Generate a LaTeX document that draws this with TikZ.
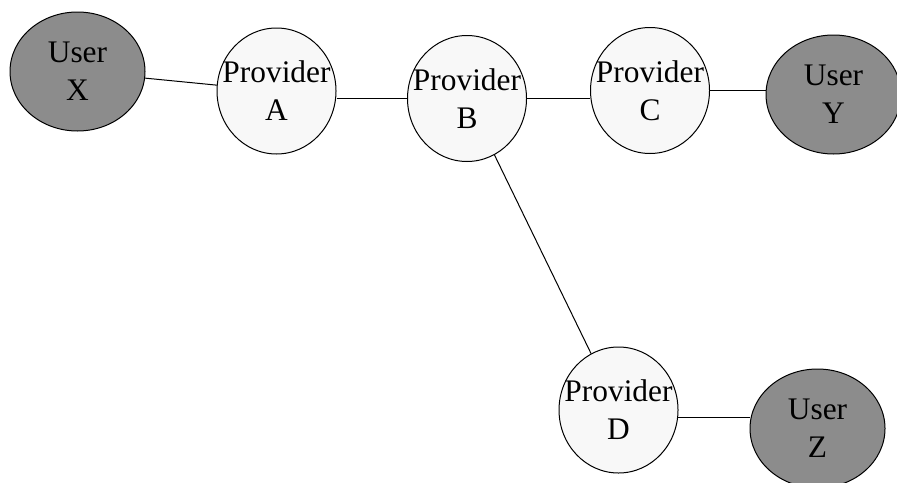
\documentclass[tikz,border=0pt]{standalone}
\usepackage{fontspec}
\setmainfont{Liberation Serif}
\usetikzlibrary{shapes.geometric}

\definecolor{usergray}{RGB}{140,140,140}
\definecolor{provwhite}{RGB}{248,248,248}

\tikzset{
	provider/.style={ellipse, draw=black, fill=provwhite, inner sep=0pt,
		minimum width=59.5pt, minimum height=63pt},
	user/.style={ellipse, draw=black, fill=usergray, inner sep=0pt,
		minimum width=67.5pt, minimum height=59.5pt},
	label text/.style={align=center, inner sep=0pt,
		font=\fontsize{15.7}{19}\selectfont}
}

\begin{document}
\begin{tikzpicture}[x=0.5pt, y=-0.5pt, line width=0.5pt]
		\useasboundingbox (0,0) rectangle (897,482);

		% users
		\node[user] (X) at (77.5,71.5) {};
		\node[user] (Y) at (833.5,94.5) {};
		\node[user] (Z) at (817.5,428.5) {};

		% providers
		\node[provider] (A) at (276.5,91) {};
		\node[provider] (B) at (467,98.5) {};
		\node[provider] (C) at (650,90.5) {};
		\node[provider] (D) at (618.5,410) {};

		% links
		\draw (X) -- (A);
		\draw (B.west) -- (B.west -| A.east);
		\draw (B.east) -- (B.east -| C.west);
		\draw (C.east) -- (C.east -| Y.west);
		\draw (B) -- (D);
		\draw (D.-7) -- (D.-7 -| Z.west);

		% texts
		\node[label text] (X-txt) at (X) {User\\X};
		\node[label text] (Y-txt) at (Y) {User\\Y};
		\node[label text] (Z-txt) at (Z) {User\\Z};
		\node[label text] (A-txt) at (A) {Provider\\A};
		\node[label text] (B-txt) at (B) {Provider\\B};
		\node[label text] (C-txt) at (C) {Provider\\C};
		\node[label text] (D-txt) at (D) {Provider\\D};
	\end{tikzpicture}
\end{document}
